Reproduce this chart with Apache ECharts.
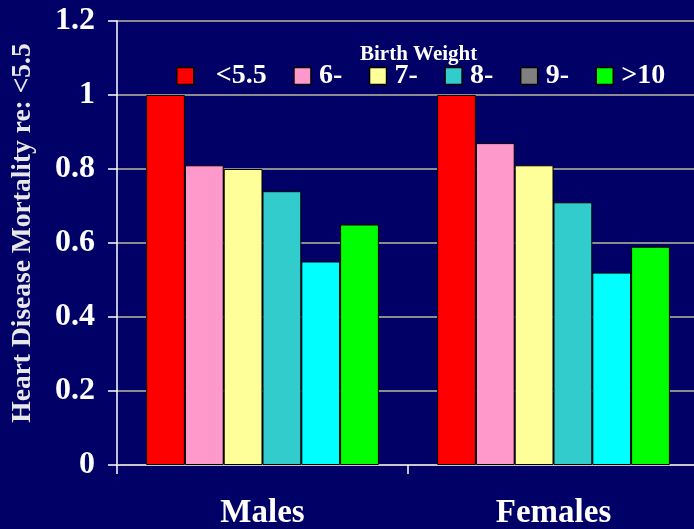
<!DOCTYPE html>
<html>
<head>
<meta charset="utf-8">
<title>Heart Disease Mortality by Birth Weight</title>
<script src="https://cdn.jsdelivr.net/npm/echarts@6/dist/echarts.min.js"></script>
<style>
  html, body { margin: 0; padding: 0; background: #000066; }
  #chart { width: 694px; height: 529px; }
</style>
</head>
<body>
<div id="chart"></div>
<script>
// Groups along the x axis
const groups = ['Males', 'Females'];

// Birth weight bands (legend entries)
const weightBands = ['<5.5', '6-', '7-', '8-', '9-', '>10'];

// Mortality relative to the <5.5 band, one array per band: [Males, Females]
const bandLt55 = [1.00, 1.00];
const band6 = [0.81, 0.87];
const band7 = [0.80, 0.81];
const band8 = [0.74, 0.71];
const band9 = [0.55, 0.52];
const band10 = [0.65, 0.59];

// Y axis ticks
const yTicks = [0, 0.2, 0.4, 0.6, 0.8, 1, 1.2];

const bandValues = [bandLt55, band6, band7, band8, band9, band10];
const barColors = ['#FF0000', '#FF99CC', '#FFFF99', '#33CCCC', '#00FFFF', '#00FF00'];
// The 9- key is shown grey in the legend
const legendColors = ['#FF0000', '#FF99CC', '#FFFF99', '#33CCCC', '#808080', '#00FF00'];

const serif = '"Liberation Serif", "Times New Roman", serif';

const chart = echarts.init(document.getElementById('chart'), null, { renderer: 'canvas' });

chart.setOption({
  backgroundColor: '#000066',
  animation: false,
  title: {
    text: 'Birth Weight',
    left: 360,
    top: 44,
    padding: 0,
    textStyle: { color: '#FFFFFF', fontFamily: serif, fontWeight: 'bold', fontSize: 21, lineHeight: 21 }
  },
  legend: {
    data: weightBands.map((name, i) => ({
      name: name,
      itemStyle: { color: legendColors[i], borderColor: '#000000', borderWidth: 1.5 }
    })),
    left: 176,
    top: 62,
    padding: 0,
    icon: 'rect',
    itemWidth: 17,
    itemHeight: 17,
    itemGap: 26.5,
    formatter: name => (name === weightBands[0] ? '{lead|}' + name : name),
    textStyle: {
      color: '#FFFFFF',
      fontFamily: serif,
      fontWeight: 'bold',
      fontSize: 28,
      lineHeight: 28,
      padding: [0, 0, 0, 3],
      rich: { lead: { width: 14 } }
    }
  },
  grid: {
    left: 117,
    top: 21,
    height: 444,
    width: 582,
    outerBoundsMode: 'none',
    containLabel: false
  },
  xAxis: {
    type: 'category',
    data: groups,
    axisLine: { show: true, lineStyle: { color: '#C8C8C8', width: 2 } },
    axisTick: { show: true, length: 9, lineStyle: { color: '#FFFFFF', width: 1.5 } },
    axisLabel: {
      color: '#FFFFFF',
      fontFamily: serif,
      fontWeight: 'bold',
      fontSize: 33,
      margin: 32
    },
    splitLine: { show: false }
  },
  yAxis: {
    type: 'value',
    min: yTicks[0],
    max: yTicks[yTicks.length - 1],
    interval: 0.2,
    name: 'Heart Disease Mortality re: <5.5',
    nameLocation: 'middle',
    nameGap: 80,
    nameTextStyle: {
      color: '#E8E8E8',
      fontFamily: serif,
      fontWeight: 'bold',
      fontSize: 27.5,
      padding: [0, 0, 0, 20]
    },
    axisLine: { show: true, lineStyle: { color: '#FFFFFF', width: 1.5 } },
    axisTick: { show: true, length: 9, lineStyle: { color: '#FFFFFF', width: 1.5 } },
    axisLabel: {
      color: '#FFFFFF',
      fontFamily: serif,
      fontWeight: 'bold',
      fontSize: 32,
      margin: 22,
      formatter: v => String(Math.round(v * 10) / 10)
    },
    splitLine: { show: true, lineStyle: { color: '#8C8C8C', width: 2 } }
  },
  series: weightBands.map((name, i) => ({
    name: name,
    type: 'bar',
    data: bandValues[i],
    barGap: '0%',
    barCategoryGap: '20%',
    itemStyle: { color: barColors[i], borderColor: '#000000', borderWidth: 1 }
  }))
});
</script>
</body>
</html>
